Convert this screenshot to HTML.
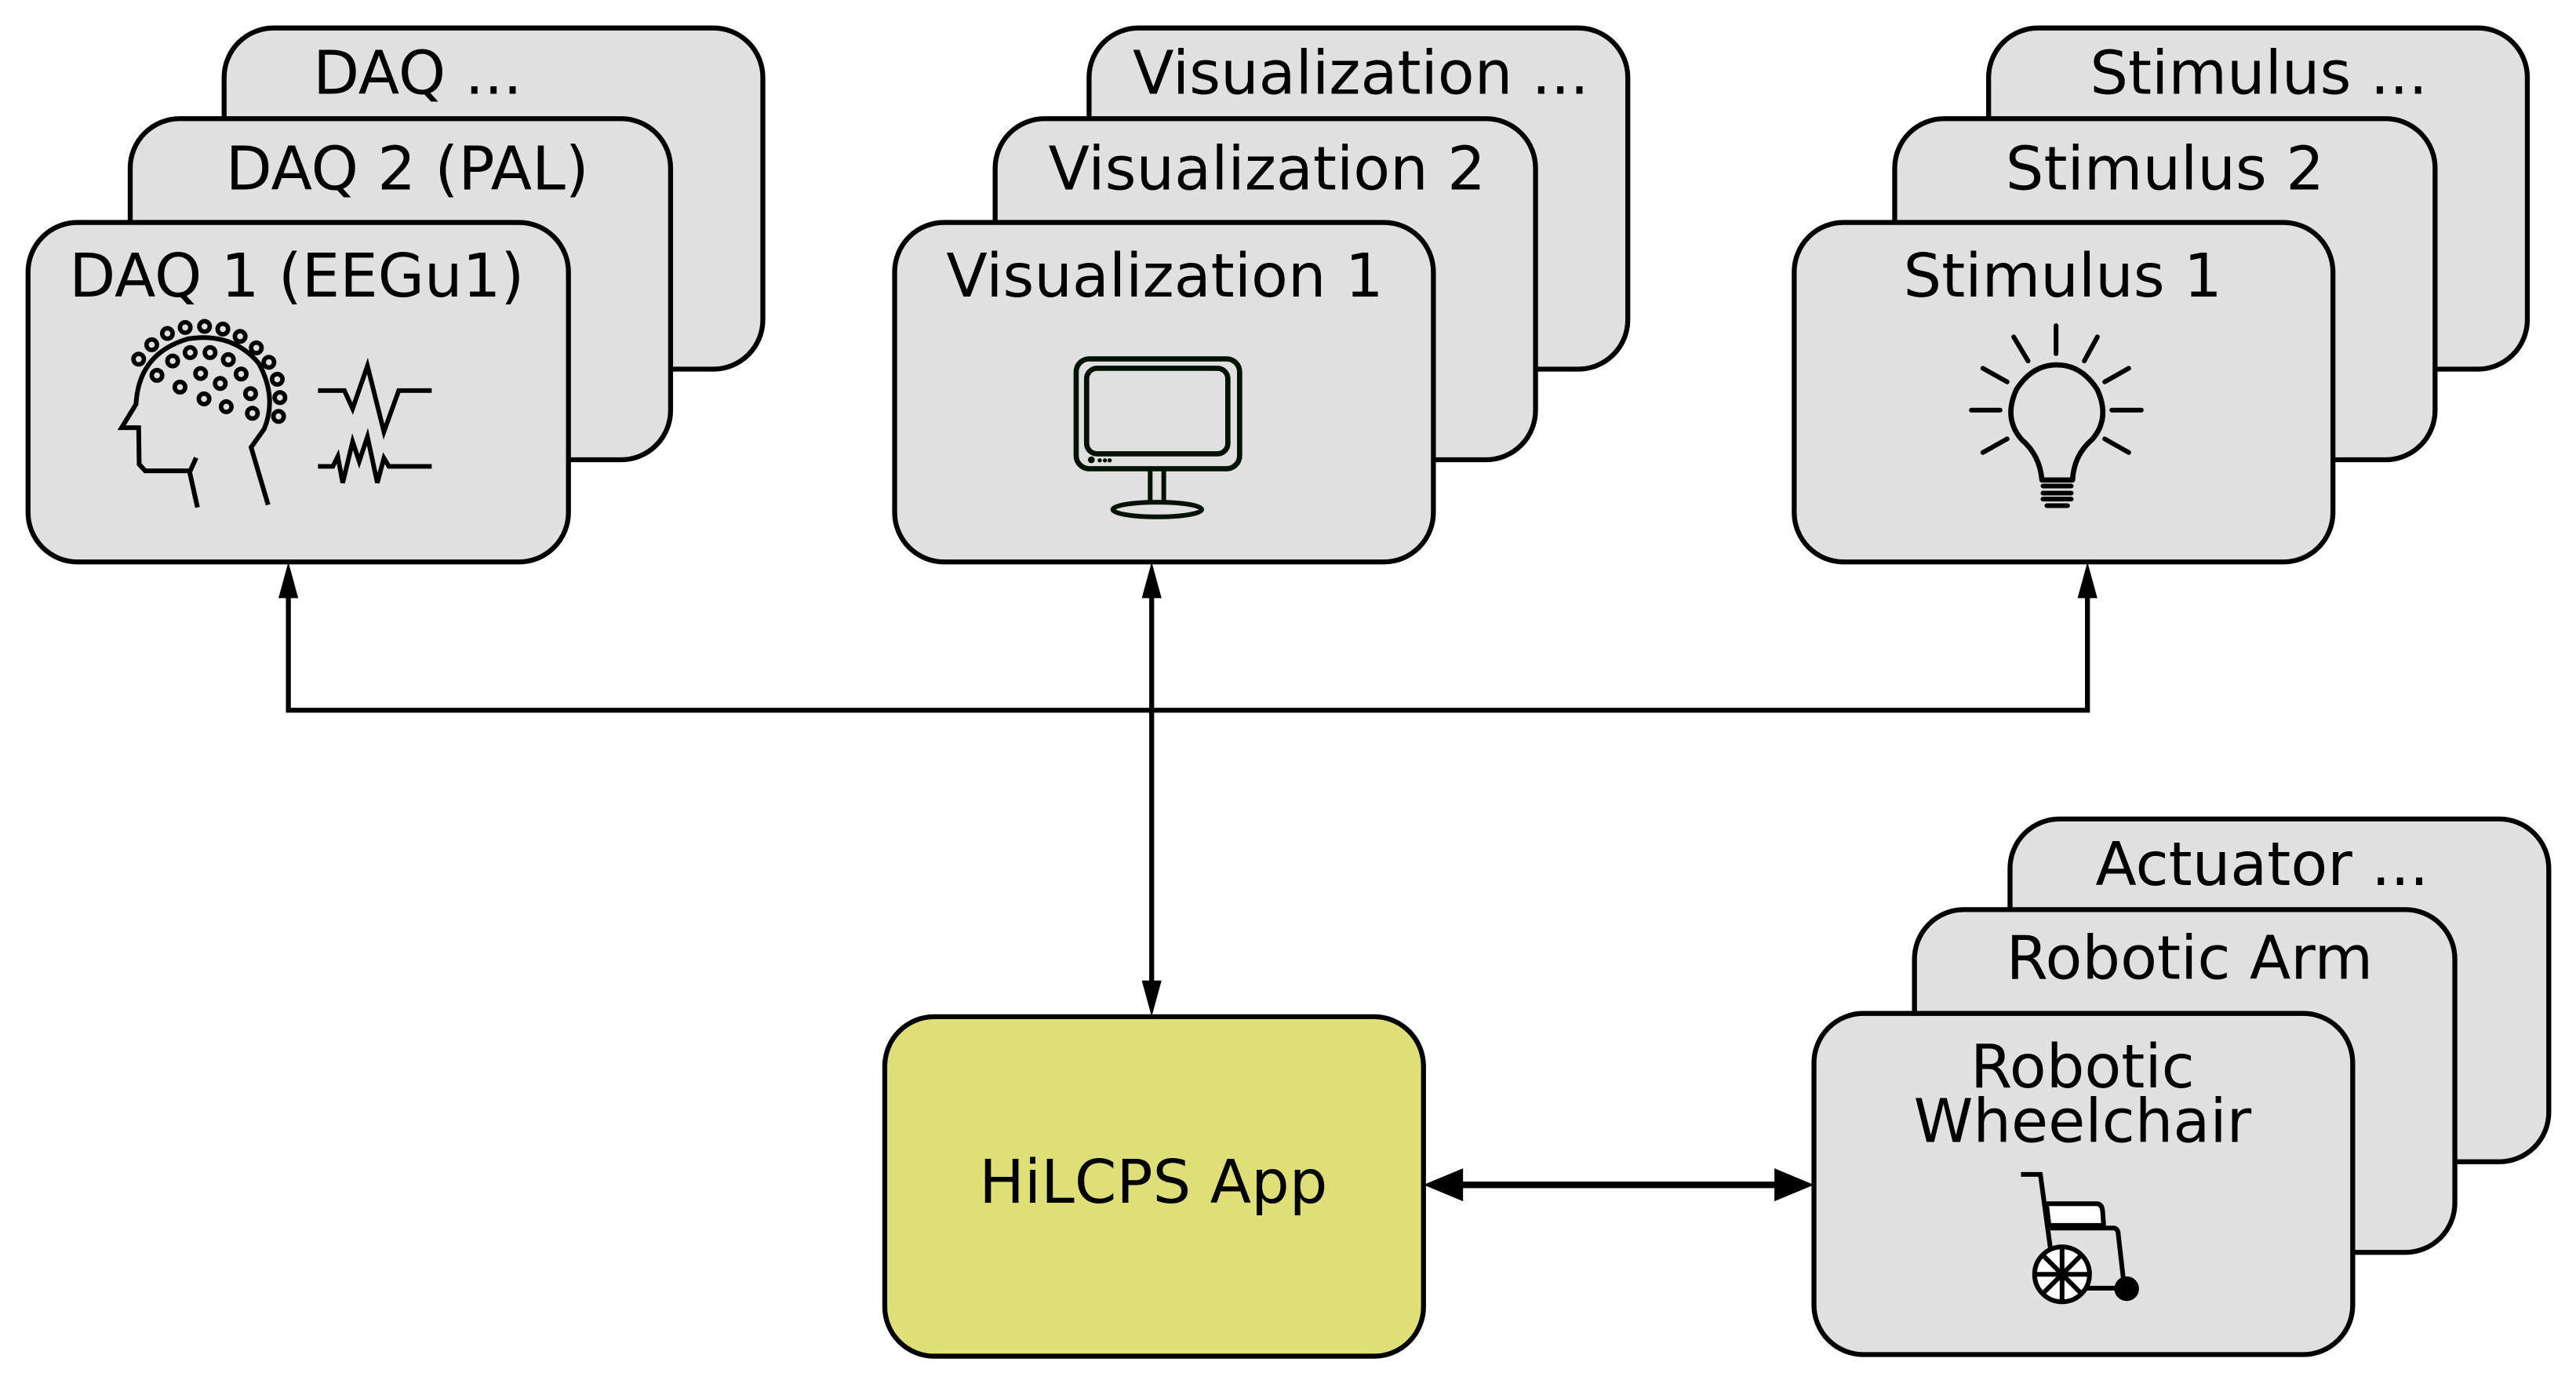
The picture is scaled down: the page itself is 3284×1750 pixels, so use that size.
<!DOCTYPE html>
<html><head><meta charset="utf-8"><style>html,body{margin:0;padding:0;background:#fff}svg{display:block}</style></head><body>
<svg width="3284" height="1750" viewBox="0 0 1563.5 833.2" xmlns="http://www.w3.org/2000/svg" font-family="'DejaVu Sans','Liberation Sans',sans-serif" font-size="36.5">
<g stroke="#000" stroke-width="3" fill="#e0e0e0">
<rect x="136" y="17" width="327" height="207" rx="30"/>
<rect x="79" y="72" width="328" height="207" rx="30"/>
<rect x="17" y="135" width="328" height="206" rx="30"/>
<rect x="661" y="17" width="327" height="207" rx="30"/>
<rect x="604" y="72" width="328" height="207" rx="30"/>
<rect x="543" y="135" width="327" height="206" rx="30"/>
<rect x="1207" y="17" width="327" height="207" rx="30"/>
<rect x="1150" y="72" width="328" height="207" rx="30"/>
<rect x="1089" y="135" width="327" height="206" rx="30"/>
<rect x="1220" y="497" width="327" height="208" rx="30"/>
<rect x="1162" y="552" width="328" height="208" rx="30"/>
<rect x="1101" y="615" width="327" height="207" rx="30"/>
<rect x="537" y="617" width="327" height="206" rx="30" fill="#dfdf77"/>
</g>
<g fill="#000">
<text x="190" y="57">DAQ ...</text>
<text x="137" y="115">DAQ 2 (PAL)</text>
<text x="42" y="180">DAQ 1 (EEGu1)</text>
<text x="826" y="57" text-anchor="middle">Visualization ...</text>
<text x="769" y="115" text-anchor="middle">Visualization 2</text>
<text x="707" y="180" text-anchor="middle">Visualization 1</text>
<text x="1371" y="57" text-anchor="middle">Stimulus ...</text>
<text x="1314" y="115" text-anchor="middle">Stimulus 2</text>
<text x="1252" y="180" text-anchor="middle">Stimulus 1</text>
<text x="1373" y="537" text-anchor="middle">Actuator ...</text>
<text x="1329" y="594" text-anchor="middle">Robotic Arm</text>
<text x="1264" y="660" text-anchor="middle">Robotic</text>
<text x="1264" y="693" text-anchor="middle">Wheelchair</text>
<text x="700" y="730" text-anchor="middle">HiLCPS App</text>
</g>
<!-- connectors -->
<g stroke="#000" stroke-width="3" fill="none">
<polyline points="175,360 175,431 1267,431 1267,360"/>
<line x1="699" y1="360" x2="699" y2="598"/>
<line x1="884" y1="719" x2="1082" y2="719" stroke-width="4"/>
</g>
<g fill="#000">
<polygon points="175,341 169,363 181,363"/>
<polygon points="1267,341 1261,363 1273,363"/>
<polygon points="699,341 693,363 705,363"/>
<polygon points="699,617 693,595 705,595"/>
<polygon points="864,719 888,709 888,729"/>
<polygon points="1101,719 1077,709 1077,729"/>
</g>
<!-- head icon -->
<g transform="translate(66.67,185.71) scale(0.15873)" stroke="#000" stroke-width="18" fill="none">
<path d="M335,770 L305,635 L330,580 M305,630 L135,630 L112,605 L110,465 L45,465 L100,375 Q110,180 300,125 Q470,100 570,220 Q640,350 590,470 L540,540 L605,760"/>
<g stroke-width="17">
<circle cx="110" cy="203" r="20"/><circle cx="160" cy="148" r="20"/><circle cx="220" cy="105" r="20"/><circle cx="288" cy="82" r="20"/><circle cx="362" cy="78" r="20"/><circle cx="432" cy="88" r="20"/><circle cx="498" cy="116" r="20"/><circle cx="560" cy="160" r="20"/><circle cx="608" cy="215" r="20"/><circle cx="640" cy="280" r="20"/><circle cx="650" cy="350" r="20"/><circle cx="645" cy="422" r="20"/>
<circle cx="180" cy="265" r="20"/><circle cx="240" cy="210" r="20"/><circle cx="307" cy="178" r="20"/><circle cx="383" cy="178" r="20"/><circle cx="453" cy="205" r="20"/><circle cx="502" cy="260" r="20"/><circle cx="347" cy="258" r="20"/><circle cx="422" cy="296" r="20"/><circle cx="268" cy="310" r="20"/><circle cx="538" cy="335" r="20"/><circle cx="360" cy="355" r="20"/><circle cx="445" cy="385" r="20"/><circle cx="545" cy="410" r="20"/>
</g>
</g>
<g stroke="#000" stroke-width="2.8" fill="none">
<path d="M193,237 L209,237 L214,248 L223,222 L233,262 L242,237 L262,237"/>
<path d="M193,283 L202,283 L205,277 L208,293 L214,268 L218,280 L223,265 L229,293 L233,278 L236,283 L262,283"/>
</g>
<!-- monitor -->
<g transform="translate(647.62,209.52) scale(0.15873)" stroke="#021202" stroke-width="20" fill="none">
<rect x="35" y="52" width="625" height="420" rx="50"/>
<rect x="75" y="88" width="540" height="327" rx="40"/>
<line x1="318" y1="472" x2="318" y2="600" stroke-width="18"/>
<line x1="370" y1="472" x2="370" y2="600" stroke-width="18"/>
<ellipse cx="345" cy="628" rx="170" ry="28" stroke-width="18"/>
<g fill="#021202" stroke="none"><circle cx="93" cy="438" r="13"/><circle cx="125" cy="440" r="8"/><circle cx="145" cy="440" r="8"/><circle cx="163" cy="440" r="8"/></g>
</g>
<!-- bulb -->
<g transform="translate(1190.48,190.48) scale(0.15873)" stroke="#000" stroke-width="18" fill="none" stroke-linecap="round">
<path d="M308,635 Q300,540 230,480 Q160,400 210,290 Q270,195 365,195 Q460,195 520,290 Q570,400 500,480 Q430,540 425,635 Z" stroke-width="20" stroke-linejoin="round"/>
<path d="M312,658 L420,658 M312,685 L420,685 M312,708 L420,708 M327,733 L406,733"/>
<path d="M362,45 L362,152 M200,88 L255,180 M520,88 L470,180 M82,208 L175,260 M640,208 L548,260 M38,368 L148,368 M575,368 L688,368 M82,530 L175,478 M640,530 L548,478"/>
</g>
<!-- wheelchair -->
<g transform="translate(1219.05,704.76) scale(0.15873)" stroke="#000" stroke-width="18" fill="none">
<path d="M48,50 L122,50 L160,330"/>
<path d="M145,162 L340,162 Q358,165 360,190 L364,245 L155,245 Z" fill="#fff"/>
<path d="M160,255 L405,255 Q420,260 420,280 L440,455"/>
<path d="M300,485 L430,485"/>
<circle cx="205" cy="432" r="105" fill="#fff"/>
<path d="M205,327 L205,537 M100,432 L310,432 M131,358 L279,506 M279,358 L131,506"/>
<circle cx="452" cy="487" r="38" fill="#000"/>
</g>
</svg>
</body></html>
